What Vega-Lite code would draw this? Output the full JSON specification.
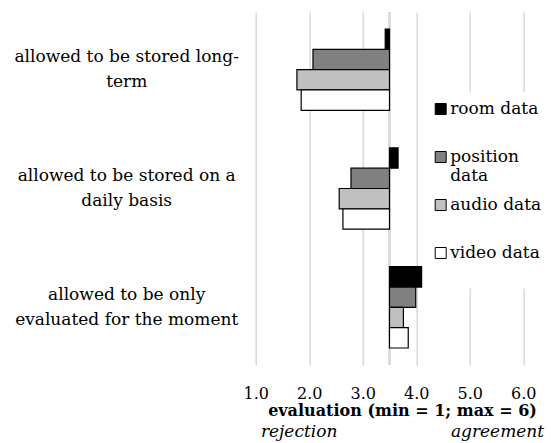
{
  "$schema": "https://vega.github.io/schema/vega-lite/v6.json",
  "width": 267.6,
  "height": 353,
  "autosize": {"type": "none"},
  "padding": {"left": 255.7, "top": 12, "right": 27.7, "bottom": 78},
  "background": "white",
  "config": {"font": "DejaVu Serif", "view": {"stroke": null}},
  "data": {"values": [
    {"category": "allowed to be stored long-term", "series": "room data", "value": 3.42},
    {"category": "allowed to be stored long-term", "series": "position data", "value": 2.07},
    {"category": "allowed to be stored long-term", "series": "audio data", "value": 1.77},
    {"category": "allowed to be stored long-term", "series": "video data", "value": 1.85},
    {"category": "allowed to be stored on a daily basis", "series": "room data", "value": 3.66},
    {"category": "allowed to be stored on a daily basis", "series": "position data", "value": 2.78},
    {"category": "allowed to be stored on a daily basis", "series": "audio data", "value": 2.56},
    {"category": "allowed to be stored on a daily basis", "series": "video data", "value": 2.63},
    {"category": "allowed to be only evaluated for the moment", "series": "room data", "value": 4.10},
    {"category": "allowed to be only evaluated for the moment", "series": "position data", "value": 3.99},
    {"category": "allowed to be only evaluated for the moment", "series": "audio data", "value": 3.76},
    {"category": "allowed to be only evaluated for the moment", "series": "video data", "value": 3.85}
  ]},
  "title": {
    "text": "evaluation (min = 1; max = 6)",
    "subtitle": "rejection\u00a0\u00a0\u00a0\u00a0\u00a0\u00a0\u00a0\u00a0\u00a0\u00a0\u00a0\u00a0\u00a0\u00a0\u00a0\u00a0\u00a0\u00a0\u00a0\u00a0\u00a0agreement",
    "orient": "bottom",
    "anchor": "middle",
    "frame": "group",
    "dx": 13,
    "offset": 2,
    "font": "DejaVu Serif",
    "fontSize": 16,
    "fontWeight": "bold",
    "color": "black",
    "subtitleFont": "DejaVu Serif",
    "subtitleFontSize": 17,
    "subtitleFontStyle": "italic",
    "subtitleColor": "black",
    "subtitlePadding": 5
  },
  "layer": [
    {
      "mark": {"type": "rule", "color": "#d9d9d9", "strokeWidth": 1.5},
      "encoding": {"x": {"datum": 3.5, "type": "quantitative", "scale": {"domain": [1, 6], "zero": false}}}
    },
    {
      "mark": {"type": "bar", "stroke": "black", "strokeWidth": 1.2},
      "encoding": {
        "y": {
          "field": "category", "type": "nominal",
          "sort": ["allowed to be stored long-term", "allowed to be stored on a daily basis", "allowed to be only evaluated for the moment"],
          "scale": {"paddingInner": 0.316, "paddingOuter": 0.143},
          "axis": {
            "title": null, "domain": false, "ticks": false, "tickSize": 0,
            "labelAlign": "center", "labelBaseline": "middle", "labelPadding": 129.5, "labelOffset": -12.5,
            "labelFontSize": 17, "labelLineHeight": 25, "labelColor": "black", "labelLimit": 400,
            "labelExpr": "datum.value == 'allowed to be stored long-term' ? ['allowed to be stored long-', 'term'] : datum.value == 'allowed to be stored on a daily basis' ? ['allowed to be stored on a', 'daily basis'] : ['allowed to be only', 'evaluated for the moment']"
          }
        },
        "yOffset": {
          "field": "series", "type": "nominal",
          "sort": ["room data", "position data", "audio data", "video data"],
          "scale": {"paddingInner": 0, "paddingOuter": 0}
        },
        "x": {
          "field": "value", "type": "quantitative",
          "scale": {"domain": [1, 6], "zero": false},
          "axis": {
            "title": null, "values": [1, 2, 3, 4, 5, 6], "format": ".1f",
            "grid": true, "gridColor": "#d9d9d9", "gridWidth": 1.5,
            "domain": false, "ticks": false, "tickSize": 0,
            "labelPadding": 20, "labelFontSize": 16, "labelColor": "black", "labelFlush": false
          }
        },
        "x2": {"datum": 3.5},
        "color": {
          "field": "series", "type": "nominal",
          "scale": {"domain": ["room data", "position data", "audio data", "video data"], "range": ["#000000", "#808080", "#c0c0c0", "#ffffff"]},
          "legend": {
            "title": null, "orient": "none", "legendX": 168.5, "legendY": 80.5,
            "fillColor": "white", "padding": 8,
            "symbolType": "square", "symbolSize": 121, "symbolStrokeColor": "black", "symbolStrokeWidth": 1,
            "labelFontSize": 17, "labelColor": "black", "labelOffset": 1, "labelLineHeight": 25,
            "rowPadding": 11,
            "labelExpr": "datum.label == 'position data' ? ['position', 'data'] : [datum.label, '']"
          }
        }
      }
    }
  ]
}
